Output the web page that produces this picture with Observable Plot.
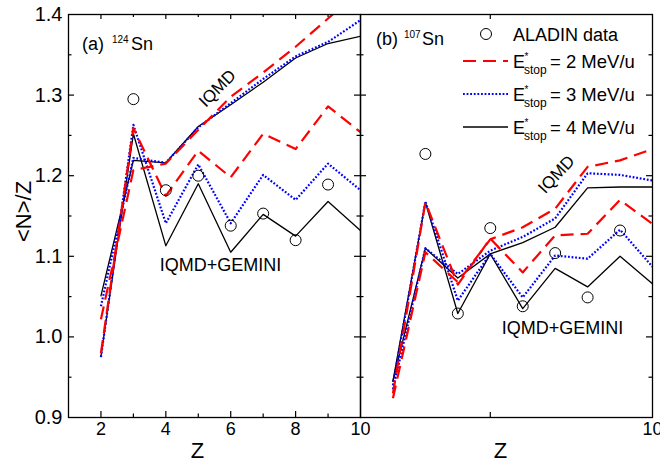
<!DOCTYPE html>
<html><head><meta charset="utf-8">
<script src="https://cdn.jsdelivr.net/npm/d3@7"></script>
<script src="https://cdn.jsdelivr.net/npm/@observablehq/plot@0.6"></script>
<style>
body{margin:0;background:#fff;}
#wrap{position:relative;width:660px;height:463px;overflow:hidden;font-family:"Liberation Sans",Arial,sans-serif;background:#fff;}
#wrap svg{position:absolute;top:0;overflow:visible;}
</style></head><body><div id="wrap"></div>
<script>
// ---------- data ----------
const Z = [2, 3, 4, 5, 6, 7, 8, 9, 10];
const dataZ = [3, 4, 5, 6, 7, 8, 9];
const aladin124 = [1.295, 1.182, 1.200, 1.138, 1.153, 1.120, 1.189];
const aladin107 = [1.227, 1.029, 1.135, 1.038, 1.104, 1.049, 1.132];

// (a) 124Sn
const iqmd124_E2 = [1.022, 1.207, 1.215, 1.257, 1.298, 1.328, 1.360, 1.395, 1.430];
const iqmd124_E3 = [1.038, 1.222, 1.216, 1.260, 1.290, 1.320, 1.348, 1.366, 1.393];
const iqmd124_E4 = [1.051, 1.219, 1.216, 1.261, 1.288, 1.316, 1.346, 1.364, 1.373];
const gem124_E2 = [0.980, 1.259, 1.175, 1.231, 1.198, 1.252, 1.233, 1.286, 1.254];
const gem124_E3 = [0.975, 1.263, 1.141, 1.214, 1.141, 1.201, 1.170, 1.215, 1.182];
const gem124_E4 = [0.976, 1.252, 1.113, 1.190, 1.105, 1.152, 1.125, 1.168, 1.132];

// (b) 107Sn
const iqmd107_E2 = [0.924, 1.105, 1.068, 1.121, 1.136, 1.159, 1.211, 1.219, 1.233];
const iqmd107_E3 = [0.935, 1.110, 1.078, 1.107, 1.124, 1.147, 1.203, 1.201, 1.194];
const iqmd107_E4 = [0.945, 1.110, 1.073, 1.103, 1.117, 1.136, 1.185, 1.186, 1.186];
const gem107_E2 = [0.930, 1.167, 1.065, 1.122, 1.080, 1.126, 1.128, 1.170, 1.140];
const gem107_E3 = [0.940, 1.168, 1.045, 1.103, 1.049, 1.101, 1.097, 1.133, 1.087];
const gem107_E4 = [0.945, 1.167, 1.029, 1.103, 1.035, 1.085, 1.062, 1.100, 1.066];

const yLabels = [0.9, 1.0, 1.1, 1.2, 1.3, 1.4];
const yMajor = [1.0, 1.1, 1.2, 1.3];
const yMinor = [0.95, 1.05, 1.15, 1.25, 1.35];
const xLabelsA = [2, 4, 6, 8, 10];
const xMajorA = [2, 4, 6, 8];
const xMinorA = [3, 5, 7, 9];
const xMajorB = [5];
const xLabelsB = [10];
const legendLabels = ["ALADIN data", "= 2 MeV/u", "= 3 MeV/u", "= 4 MeV/u"];

// ---------- styles ----------
const FONT = '"Liberation Sans", Arial, sans-serif';
const st = {
  2: {stroke: "#ff0000", strokeWidth: 2.2, strokeDasharray: "13,7", strokeLinecap: "butt"},
  3: {stroke: "#0000ff", strokeWidth: 2.2, strokeDasharray: "1.8,1.8", strokeLinecap: "butt"},
  4: {stroke: "#000000", strokeWidth: 1.3}
};
const H = 463, MT = 14, MB = 46, FW = 292, FH = H - MT - MB;

function rows(vals) { return Z.map((z, i) => ({z, v: vals[i]})); }
function pts(zs, vals) { return zs.map((z, i) => ({z, v: vals[i]})); }

function seriesMarks(iq, gm, circ) {
  const m = [];
  for (const e of [4, 3, 2]) {
    m.push(Plot.line(rows(iq[e]), {x: "z", y: "v", ...st[e], clip: true}));
    m.push(Plot.line(rows(gm[e]), {x: "z", y: "v", ...st[e], clip: true}));
  }
  m.push(Plot.dot(circ, {x: "z", y: "v", r: 5.5, stroke: "#000", strokeWidth: 1, fill: "none"}));
  return m;
}

function yTickMarks(side) {
  const inset = side === "left" ? "insetRight" : "insetLeft";
  return [
    Plot.ruleY(yMajor, {y: d => d, stroke: "#000", strokeWidth: 1.2, [inset]: FW - 6}),
    Plot.ruleY(yMinor, {y: d => d, stroke: "#000", strokeWidth: 1.2, [inset]: FW - 3.5})
  ];
}

const common = (w, ml, mr) => ({
  width: w, height: H, marginTop: MT, marginBottom: MB, marginLeft: ml, marginRight: mr,
  x: {domain: [1, 10], axis: null},
  y: {domain: [0.9, 1.4], axis: null},
  style: {fontFamily: FONT, overflow: "visible", background: "transparent", color: "#000"}
});

// ---------- panel (a) ----------
const plotA = Plot.plot({
  ...common(360, 68, 0),
  marks: [
    ...seriesMarks(
      {2: iqmd124_E2, 3: iqmd124_E3, 4: iqmd124_E4},
      {2: gem124_E2, 3: gem124_E3, 4: gem124_E4},
      pts(dataZ, aladin124)),
    Plot.ruleX(xMajorA, {x: d => d, stroke: "#000", strokeWidth: 1.2, insetTop: FH - 6}),
    Plot.ruleX(xMinorA, {x: d => d, stroke: "#000", strokeWidth: 1.2, insetTop: FH - 3.5}),
    Plot.ruleX(xMajorA, {x: d => d, stroke: "#000", strokeWidth: 1.2, insetBottom: FH - 5}),
    Plot.ruleX(xMinorA, {x: d => d, stroke: "#000", strokeWidth: 1.2, insetBottom: FH - 3}),
    ...yTickMarks("left"),
    ...yTickMarks("right"),
    Plot.frame({stroke: "#000", strokeWidth: 1.3}),
    Plot.text(xLabelsA, {x: d => d, text: d => String(d), frameAnchor: "bottom", textAnchor: "middle", lineAnchor: "top", dy: 5, fontSize: 18}),
    Plot.text(yLabels, {y: d => d, text: d => d.toFixed(1), frameAnchor: "left", textAnchor: "end", lineAnchor: "middle", dx: -6, fontSize: 20}),
    Plot.text(["Z"], {frameAnchor: "bottom-left", textAnchor: "middle", dx: 129, dy: 33, lineAnchor: "middle", fontSize: 22}),
    Plot.text(["<N>/Z"], {frameAnchor: "left", textAnchor: "middle", dx: -45, dy: -4.5, rotate: -90, lineAnchor: "middle", fontSize: 22}),
    Plot.text(["IQMD"], {frameAnchor: "top-left", textAnchor: "middle", dx: 149, dy: 74, rotate: -45, lineAnchor: "middle", fontSize: 17}),
    Plot.text(["IQMD+GEMINI"], {frameAnchor: "top-left", textAnchor: "middle", dx: 152, dy: 251, lineAnchor: "middle", fontSize: 18})
  ]
});

// ---------- panel (b) ----------
const plotB = Plot.plot({
  ...common(300, 0, 8),
  marks: [
    ...seriesMarks(
      {2: iqmd107_E2, 3: iqmd107_E3, 4: iqmd107_E4},
      {2: gem107_E2, 3: gem107_E3, 4: gem107_E4},
      pts(dataZ, aladin107)),
    Plot.ruleX(xMajorB, {x: d => d, stroke: "#000", strokeWidth: 1.2, insetTop: FH - 5}),
    Plot.ruleX(xMajorB, {x: d => d, stroke: "#000", strokeWidth: 1.2, insetBottom: FH - 5}),
    ...yTickMarks("left"),
    ...yTickMarks("right"),
    Plot.frame({stroke: "#000", strokeWidth: 1.3}),
    Plot.text(xLabelsB, {x: d => d, text: d => String(d), frameAnchor: "bottom", textAnchor: "middle", lineAnchor: "top", dy: 5, fontSize: 18}),
    Plot.text(["Z"], {frameAnchor: "bottom-left", textAnchor: "middle", dx: 140, dy: 33, lineAnchor: "middle", fontSize: 22}),
    Plot.text(["IQMD"], {frameAnchor: "top-left", textAnchor: "middle", dx: 196, dy: 160, rotate: -47, lineAnchor: "middle", fontSize: 17}),
    Plot.text(["IQMD+GEMINI"], {frameAnchor: "top-left", textAnchor: "middle", dx: 202, dy: 314, lineAnchor: "middle", fontSize: 18})
  ]
});

const wrap = document.getElementById("wrap");
plotA.style.left = "0px";
plotB.style.left = "360px";
wrap.appendChild(plotA);
wrap.appendChild(plotB);

// ---------- panel titles ----------
function title(svg, base, letter, mass, xs) {
  const t = d3.select(svg).append("text").attr("font-family", FONT).attr("fill", "#000").attr("text-anchor", "start");
  t.append("tspan").attr("x", xs[0]).attr("y", base).attr("font-size", 18).text(letter);
  t.append("tspan").attr("x", xs[1]).attr("y", base - 7).attr("font-size", 10).text(mass);
  t.append("tspan").attr("x", xs[2]).attr("y", base).attr("font-size", 18).text("Sn");
}
title(plotA, 50, "(a)", "124", [82, 112, 131]);
title(plotB, 45, "(b)", "107", [16, 44, 62]);

// ---------- legend (panel b, local coords) ----------
const g = d3.select(plotB).append("g").attr("font-family", FONT).attr("fill", "#000").attr("text-anchor", "start");
g.append("circle").attr("cx", 126).attr("cy", 34).attr("r", 5.5).attr("fill", "none").attr("stroke", "#000").attr("stroke-width", 1);
g.append("text").attr("x", 153).attr("y", 40.5).attr("font-size", 18).text(legendLabels[0]);
[2, 3, 4].forEach((e, i) => {
  const y = 61 + i * 33;
  g.append("line").attr("x1", 103).attr("x2", 148).attr("y1", y).attr("y2", y)
    .attr("stroke", st[e].stroke).attr("stroke-width", st[e].strokeWidth)
    .attr("stroke-dasharray", st[e].strokeDasharray || null);
  const t = g.append("text").attr("font-size", 18);
  t.append("tspan").attr("x", 153).attr("y", y + 6.5).text("E");
  t.append("tspan").attr("x", 164.5).attr("y", y - 1).attr("font-size", 10).text("*");
  t.append("tspan").attr("x", 164).attr("y", y + 13).attr("font-size", 12).text("stop");
  t.append("tspan").attr("x", 190).attr("y", y + 6.5).attr("font-size", 18.5).text(legendLabels[i + 1]);
});
</script></body></html>
